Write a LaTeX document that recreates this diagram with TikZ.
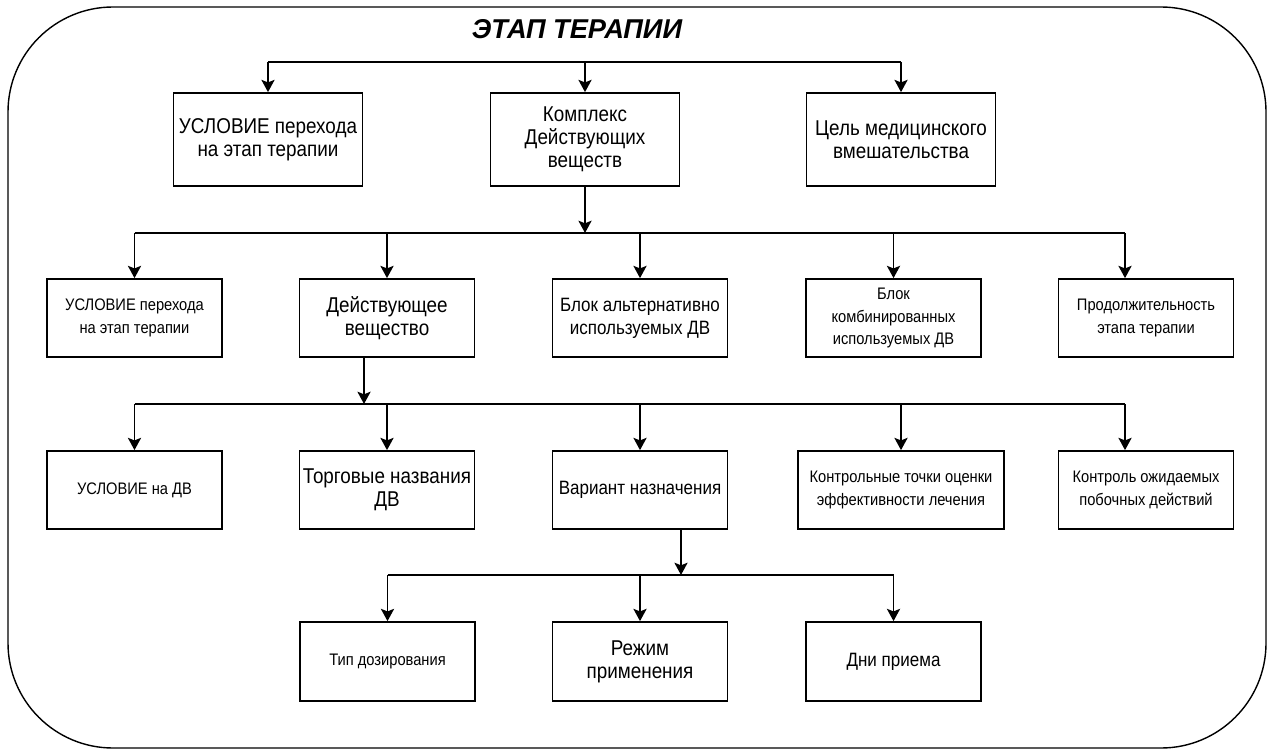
\documentclass[tikz,border=0pt]{standalone}
\usepackage{fontspec}
\setmainfont{Liberation Sans}
\newfontfamily\boxfont{Liberation Sans}[FakeStretch=0.88]
\usetikzlibrary{arrows.meta}
\tikzset{block/.style={rectangle,draw=black,line width=1pt,align=center,inner sep=2pt,fill=white}}
\tikzset{line/.style={black,line width=1pt}}
\tikzset{arr/.style={line,-{Stealth[length=7pt,width=7.5pt,inset=1.5pt]}}}
\tikzset{big/.style={font=\boxfont\fontsize{12.2}{13}\selectfont}}
\tikzset{mid/.style={font=\boxfont\fontsize{11}{13}\selectfont}}
\tikzset{small/.style={font=\boxfont\fontsize{9.5}{13}\selectfont}}
\tikzset{row1/.style={block,minimum width=3.78cm,minimum height=1.86cm}}
\tikzset{row2/.style={block,minimum width=3.5cm,minimum height=1.56cm}}
\tikzset{row3/.style={block,minimum width=3.5cm,minimum height=1.58cm}}

\begin{document}
\begin{tikzpicture}[x=0.02cm,y=-0.02cm]
  \useasboundingbox (0,0) rectangle (1273,753);
  % Frame
  \draw[line,line width=0.8pt,rounded corners=2.1cm] (8,7) rectangle (1266,748);
  \node[font=\bfseries\itshape\fontsize{15.5}{17}\selectfont] (title) at (577,29) {ЭТАП ТЕРАПИИ};

  % Level 1
  \node[row1,big] (usl) at (268,139.5) {УСЛОВИЕ перехода\\на этап терапии};
  \node[row1,big] (kompl) at (585,139.5) {Комплекс\\Действующих\\веществ};
  \node[row1,big] (cel) at (901,139.5) {Цель медицинского\\вмешательства};
  \coordinate (bus1) at (585,62);
  \draw[line] (usl.north |- bus1) -- (cel.north |- bus1);
  \foreach \n in {usl,kompl,cel}
    \draw[arr] (\n.north |- bus1) -- (\n.north);

  % Level 2
  \node[row2,small] (uslp) at (134.5,318) {УСЛОВИЕ перехода\\на этап терапии};
  \node[row2,big] (dv) at (387,318) {Действующее\\вещество};
  \node[row2,mid] (alt) at (640,318) {Блок альтернативно\\используемых ДВ};
  \node[row2,small] (komb) at (893.5,318) {Блок\\комбинированных\\используемых ДВ};
  \node[row2,small] (prod) at (1146,318) {Продолжительность\\этапа терапии};
  \coordinate (bus2) at (585,233);
  \coordinate (prodin) at ([xshift=-0.42cm]prod.north);
  \draw[arr] (kompl.south) -- (bus2);
  \draw[line] (uslp.north |- bus2) -- (prodin |- bus2);
  \foreach \n in {uslp,dv,alt,komb}
    \draw[arr] (\n.north |- bus2) -- (\n.north);
  \draw[arr] (prodin |- bus2) -- (prodin);

  % Level 3
  \node[row2,small] (usldv) at (134.5,490) {УСЛОВИЕ на ДВ};
  \node[row2,big] (torg) at (387,490) {Торговые названия\\ДВ};
  \node[row2,mid] (var) at (640,490) {Вариант назначения};
  \node[row2,small,minimum width=4.12cm] (kontr) at (901,490) {Контрольные точки оценки\\эффективности лечения};
  \node[row2,small] (pob) at (1146,490) {Контроль ожидаемых\\побочных действий};
  \coordinate (bus3) at (364,404);
  \coordinate (dvout) at ([xshift=-0.46cm]dv.south);
  \coordinate (pobin) at ([xshift=-0.42cm]pob.north);
  \draw[arr] (dvout) -- (dvout |- bus3);
  \draw[line] (usldv.north |- bus3) -- (pobin |- bus3);
  \foreach \n in {usldv,torg,var,kontr}
    \draw[arr] (\n.north |- bus3) -- (\n.north);
  \draw[arr] (pobin |- bus3) -- (pobin);

  % Level 4
  \node[row3,small] (tip) at (387.5,661.5) {Тип дозирования};
  \node[row3,big] (rezh) at (640,661.5) {Режим\\применения};
  \node[row3,mid] (dni) at (893.5,661.5) {Дни приема};
  \coordinate (bus4) at (681,575);
  \coordinate (varout) at ([xshift=0.82cm]var.south);
  \draw[arr] (varout) -- (varout |- bus4);
  \draw[line] (tip.north |- bus4) -- (dni.north |- bus4);
  \foreach \n in {tip,rezh,dni}
    \draw[arr] (\n.north |- bus4) -- (\n.north);
\end{tikzpicture}
\end{document}
